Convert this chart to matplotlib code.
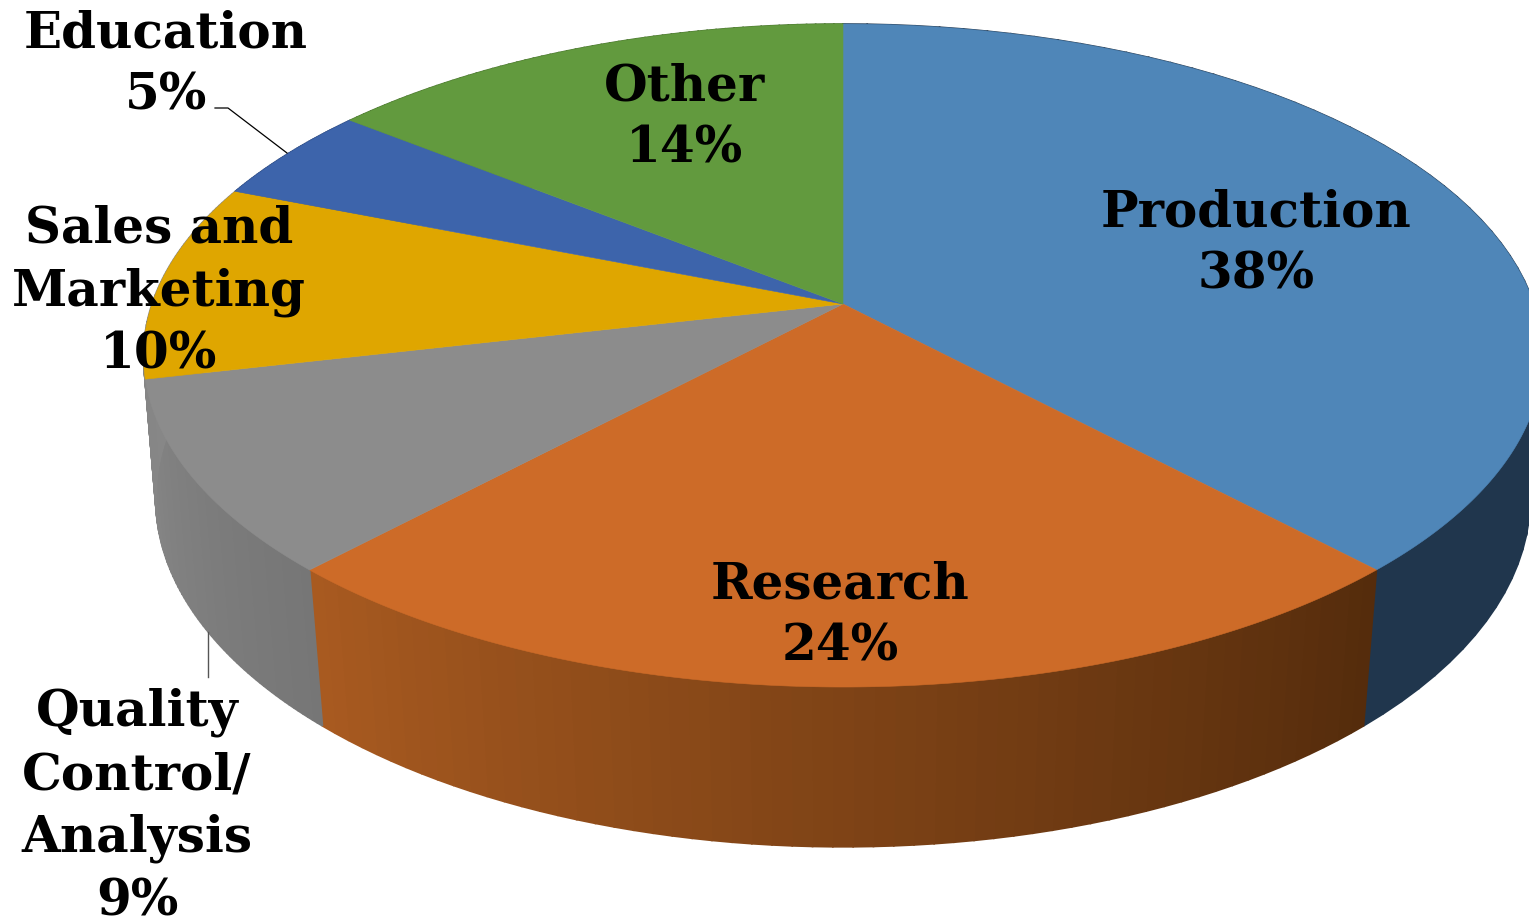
import matplotlib
matplotlib.use('Agg')
import matplotlib.pyplot as plt
import numpy as np

# clockwise from 12 o'clock, estimated from the wedge corners, labels show them rounded
categories = ['Production', 'Research', 'Quality\nControl/\nAnalysis', 'Sales and\nMarketing', 'Education', 'Other']
shares = [38, 24, 9.4, 9.6, 4.7, 14.3]

top_colors = ['#4f86b8', '#cd6b28', '#8c8c8c', '#dfa600', '#3d64ab', '#629a3e']
side_left = ['#20364d', '#a85a20', '#858585', '#8a8a8a', '#2d4a80', '#49732e']
side_right = ['#20364d', '#552c0c', '#767676', '#858585', '#2d4a80', '#49732e']

label_pos = [(1256, 244), (840, 616), (137, 807), (159, 292), (166, 65), (685, 118)]

W, H = 1529, 919


def top_rim(t):
    u, v = np.sin(t), np.cos(t)
    d = 1 + 0.1554 * v
    return 843 + 691 * u / d, 304 - 323.5 * v / d


def bottom_rim(t):
    u, v = np.sin(t), np.cos(t)
    d = 1 + 0.145 * v
    return 843 + 680 * u / d, 448 - 341 * v / d


def mix(c1, c2, f):
    a = np.array(matplotlib.colors.to_rgb(c1))
    b = np.array(matplotlib.colors.to_rgb(c2))
    return a + (b - a) * f


fig = plt.figure(figsize=(W / 100, H / 100), dpi=100)
ax = fig.add_axes([0, 0, 1, 1])
ax.set_xlim(0, W)
ax.set_ylim(H, 0)
ax.axis('off')

edges = np.radians(np.cumsum([0] + shares) * 3.6)

# side wall first, the top face covers whatever is behind
for i in range(len(shares)):
    ts = np.linspace(edges[i], edges[i + 1], 60)
    # angle runs right to left along the front
    for j in range(len(ts) - 1):
        x1, y1 = top_rim(ts[j:j + 2])
        x2, y2 = bottom_rim(ts[j:j + 2])
        c = mix(side_right[i], side_left[i], j / 58)
        ax.fill(np.r_[x1, x2[::-1]], np.r_[y1, y2[::-1]], color=c, lw=1.2, zorder=1)

# top face
for i in range(len(shares)):
    ts = np.linspace(edges[i], edges[i + 1], 200)
    x, y = top_rim(ts)
    ax.fill(np.r_[843, x], np.r_[304, y], color=top_colors[i], lw=0.4, zorder=2)

# leader lines
ax.plot([215, 228, 287], [108, 108, 153], color='black', lw=0.9, zorder=3)
ax.plot([208, 208], [632, 677], color='#555555', lw=1.0, zorder=3)

for name, val, (lx, ly) in zip(categories, shares, label_pos):
    ax.text(lx, ly, name + '\n' + str(round(val)) + '%', ha='center', va='center', family='DejaVu Serif',
            fontweight='bold', fontsize=36, linespacing=1.36, color='black', zorder=4)

fig.savefig('out.png', dpi=100)
